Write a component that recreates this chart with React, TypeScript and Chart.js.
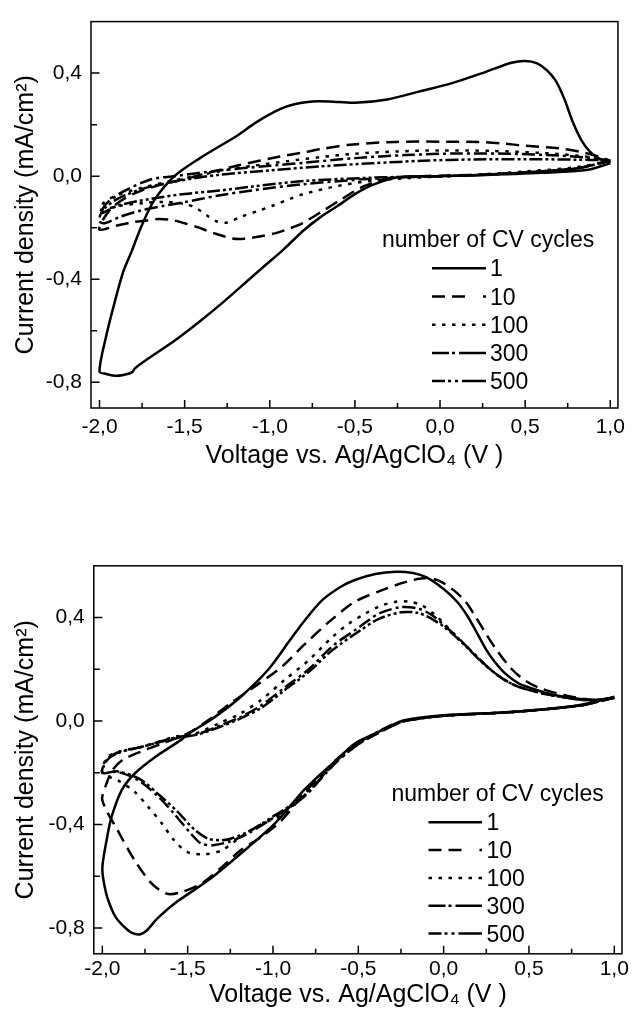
import React, { useEffect, useRef } from "react";
import { Chart, registerables } from "chart.js";

Chart.register(...registerables);

type Pt = [number, number];

// ---------- text ----------
const seriesLabels = ["1", "10", "100", "300", "500"];
const legendTitle = "number of CV cycles";
const xTitle = "Voltage vs. Ag/AgClO\u2084 (V )";
const yTitle = "Current density (mA/cm\u00B2)";

// ---------- ticks ----------
const xTickValues = [-2, -1.75, -1.5, -1.25, -1, -0.75, -0.5, -0.25, 0, 0.25, 0.5, 0.75, 1];
const yTickValues = [-0.8, -0.6, -0.4, -0.2, 0, 0.2, 0.4];
const xRange = [-2.05, 1.045];
const yRange = [-0.9, 0.6];

// ---------- top panel (V, mA/cm2) ----------
const top1: Pt[] = [
  [1.0, 0.05], [0.87, 0.025], [0.6, 0.013], [0.2, 0.003], [0.0, 0.0], [-0.25, -0.004], [-0.4, -0.035],
  [-0.5, -0.07], [-0.6, -0.115], [-0.7, -0.158], [-0.8, -0.21], [-0.92, -0.285], [-1.03, -0.348],
  [-1.12, -0.4], [-1.27, -0.487], [-1.41, -0.563], [-1.56, -0.639], [-1.7, -0.702], [-1.79, -0.745],
  [-1.81, -0.762], [-1.86, -0.772], [-1.91, -0.775], [-1.96, -0.768], [-2.0, -0.758],
  [-1.958, -0.613], [-1.91, -0.487], [-1.86, -0.37], [-1.81, -0.29], [-1.755, -0.196], [-1.68, -0.095],
  [-1.56, 0.0], [-1.41, 0.07], [-1.19, 0.158], [-1.08, 0.209], [-0.94, 0.26], [-0.85, 0.28],
  [-0.75, 0.29], [-0.65, 0.29], [-0.5, 0.285], [-0.31, 0.298], [-0.12, 0.329], [0.07, 0.361],
  [0.27, 0.405], [0.42, 0.44], [0.5, 0.447], [0.57, 0.438], [0.63, 0.41], [0.68, 0.37],
  [0.73, 0.3], [0.78, 0.21], [0.83, 0.14], [0.88, 0.095], [0.94, 0.066], [1.0, 0.05],
];
const top10: Pt[] = [
  [1.0, 0.06], [0.8, 0.03], [0.5, 0.015], [0.2, 0.005], [-0.1, 0.0], [-0.3, -0.01], [-0.45, -0.04],
  [-0.58, -0.09], [-0.7, -0.14], [-0.81, -0.183], [-0.88, -0.202], [-0.97, -0.222], [-1.06, -0.234],
  [-1.15, -0.243], [-1.22, -0.242], [-1.33, -0.221], [-1.43, -0.197], [-1.5, -0.183], [-1.57, -0.171],
  [-1.65, -0.166], [-1.72, -0.172], [-1.8, -0.178], [-1.9, -0.192], [-2.0, -0.208],
  [-1.98, -0.17], [-1.93, -0.125], [-1.85, -0.085], [-1.75, -0.055], [-1.62, -0.03], [-1.48, -0.008],
  [-1.35, 0.015], [-1.17, 0.044], [-0.94, 0.076], [-0.82, 0.09], [-0.7, 0.105], [-0.53, 0.122],
  [-0.26, 0.133], [0.03, 0.134], [0.23, 0.133], [0.37, 0.127], [0.47, 0.12], [0.7, 0.108],
  [0.82, 0.095], [0.93, 0.076], [1.0, 0.06],
];
const top100: Pt[] = [
  [1.0, 0.06], [0.8, 0.035], [0.5, 0.018], [0.2, 0.005], [-0.2, -0.008], [-0.4, -0.018], [-0.6, -0.038],
  [-0.8, -0.069], [-0.88, -0.088], [-0.98, -0.114], [-1.06, -0.133], [-1.17, -0.158], [-1.25, -0.18],
  [-1.31, -0.176], [-1.37, -0.152], [-1.43, -0.125], [-1.5, -0.108], [-1.62, -0.1], [-1.75, -0.105],
  [-1.88, -0.115], [-2.0, -0.13],
  [-1.97, -0.1], [-1.9, -0.075], [-1.75, -0.045], [-1.55, -0.015], [-1.3, 0.018], [-1.1, 0.04],
  [-0.9, 0.058], [-0.7, 0.074], [-0.5, 0.087], [-0.25, 0.096], [0.0, 0.1], [0.3, 0.098], [0.6, 0.09],
  [0.8, 0.08], [0.95, 0.068], [1.0, 0.06],
];
const top300: Pt[] = [
  [1.0, 0.06], [0.8, 0.03], [0.5, 0.015], [0.2, 0.004], [0.0, 0.0], [-0.4, -0.01], [-0.8, -0.031],
  [-1.1, -0.055], [-1.3, -0.075], [-1.5, -0.101], [-1.62, -0.115], [-1.755, -0.133], [-1.88, -0.158],
  [-1.97, -0.183], [-2.0, -0.175],
  [-1.99, -0.14], [-1.96, -0.107], [-1.87, -0.063], [-1.7, -0.013], [-1.56, 0.0], [-1.3, 0.022],
  [-1.0, 0.04], [-0.8, 0.052], [-0.5, 0.07], [-0.2, 0.082], [0.1, 0.088], [0.4, 0.087], [0.7, 0.08],
  [0.9, 0.07], [1.0, 0.06],
];
const top500: Pt[] = [
  [1.0, 0.06], [0.8, 0.03], [0.5, 0.014], [0.2, 0.004], [0.0, 0.0], [-0.4, -0.006], [-0.8, -0.019],
  [-1.1, -0.04], [-1.31, -0.057], [-1.5, -0.069], [-1.7, -0.088], [-1.89, -0.114], [-1.99, -0.145],
  [-1.97, -0.125], [-1.9, -0.09], [-1.75, -0.05], [-1.55, -0.02], [-1.3, 0.005], [-1.0, 0.022],
  [-0.7, 0.038], [-0.4, 0.05], [-0.1, 0.06], [0.2, 0.065], [0.5, 0.066], [0.8, 0.064], [0.95, 0.062],
  [1.0, 0.06],
];

// ---------- bottom panel (V, mA/cm2) ----------
const bot1: Pt[] = [
  [1.0, 0.093], [0.79, 0.061], [0.4, 0.035], [0.0, 0.022], [-0.23, 0.003], [-0.32, -0.022], [-0.4, -0.048],
  [-0.52, -0.087], [-0.63, -0.152], [-0.72, -0.205], [-0.82, -0.268], [-0.99, -0.397], [-1.19, -0.513],
  [-1.38, -0.616], [-1.58, -0.707], [-1.68, -0.765], [-1.74, -0.81], [-1.78, -0.825], [-1.83, -0.818],
  [-1.87, -0.797], [-1.92, -0.76], [-1.95, -0.72], [-1.98, -0.66], [-2.0, -0.571],
  [-1.975, -0.461], [-1.946, -0.371], [-1.887, -0.268], [-1.81, -0.203], [-1.69, -0.139], [-1.54, -0.074],
  [-1.5, -0.052], [-1.34, 0.016], [-1.19, 0.093], [-1.03, 0.197], [-0.9, 0.313], [-0.82, 0.384],
  [-0.71, 0.468], [-0.6, 0.52], [-0.52, 0.545], [-0.4, 0.568], [-0.28, 0.577], [-0.18, 0.572],
  [-0.1, 0.555], [0.0, 0.51], [0.08, 0.46], [0.14, 0.405], [0.2, 0.335], [0.25, 0.275], [0.3, 0.228],
  [0.36, 0.184], [0.44, 0.145], [0.5, 0.13], [0.6, 0.108], [0.71, 0.093], [0.88, 0.081], [0.95, 0.085],
  [1.0, 0.093],
];
const bot10: Pt[] = [
  [1.0, 0.093], [0.8, 0.06], [0.4, 0.035], [0.0, 0.02], [-0.23, 0.0], [-0.32, -0.025], [-0.5, -0.085],
  [-0.63, -0.15], [-0.72, -0.21], [-0.82, -0.281], [-0.95, -0.384], [-1.07, -0.449], [-1.19, -0.5],
  [-1.3, -0.565], [-1.42, -0.629], [-1.54, -0.662], [-1.62, -0.668], [-1.71, -0.629], [-1.81, -0.539],
  [-1.91, -0.423], [-2.0, -0.307],
  [-1.98, -0.25], [-1.94, -0.19], [-1.88, -0.15], [-1.78, -0.12], [-1.66, -0.09], [-1.5, -0.048],
  [-1.38, 0.003], [-1.25, 0.068], [-1.11, 0.132], [-0.95, 0.209], [-0.82, 0.293], [-0.67, 0.384],
  [-0.52, 0.461], [-0.36, 0.506], [-0.22, 0.538], [-0.1, 0.553], [-0.02, 0.54], [0.06, 0.505],
  [0.13, 0.46], [0.19, 0.4], [0.25, 0.335], [0.31, 0.275], [0.4, 0.2], [0.48, 0.155], [0.56, 0.128],
  [0.71, 0.1], [0.88, 0.081], [0.95, 0.085], [1.0, 0.093],
];
const bot100: Pt[] = [
  [1.0, 0.09], [0.8, 0.06], [0.4, 0.035], [0.0, 0.02], [-0.23, 0.0], [-0.32, -0.025], [-0.5, -0.09],
  [-0.63, -0.16], [-0.82, -0.285], [-0.935, -0.358], [-1.07, -0.4], [-1.19, -0.449], [-1.3, -0.5],
  [-1.4, -0.515], [-1.5, -0.507], [-1.58, -0.461], [-1.65, -0.397], [-1.73, -0.333], [-1.81, -0.274],
  [-1.91, -0.229], [-2.0, -0.2],
  [-1.97, -0.14], [-1.9, -0.118], [-1.77, -0.1], [-1.58, -0.062], [-1.44, -0.045], [-1.32, -0.01],
  [-1.19, 0.029], [-1.07, 0.081], [-0.93, 0.16], [-0.79, 0.235], [-0.65, 0.326], [-0.555, 0.377],
  [-0.46, 0.415], [-0.37, 0.445], [-0.28, 0.461], [-0.2, 0.461], [-0.13, 0.448], [-0.05, 0.41],
  [0.0, 0.378], [0.06, 0.338], [0.14, 0.285], [0.22, 0.232], [0.28, 0.196], [0.35, 0.162], [0.44, 0.132],
  [0.63, 0.1], [0.86, 0.08], [1.0, 0.09],
];
const bot300: Pt[] = [
  [1.0, 0.09], [0.8, 0.06], [0.4, 0.035], [0.0, 0.02], [-0.23, 0.0], [-0.32, -0.025], [-0.5, -0.09],
  [-0.63, -0.16], [-0.82, -0.294], [-0.99, -0.371], [-1.15, -0.436], [-1.25, -0.465], [-1.35, -0.48],
  [-1.42, -0.474], [-1.48, -0.436], [-1.58, -0.358], [-1.67, -0.294], [-1.79, -0.229], [-1.91, -0.197],
  [-2.0, -0.2],
  [-1.97, -0.145], [-1.9, -0.12], [-1.77, -0.1], [-1.58, -0.065], [-1.44, -0.05], [-1.32, -0.02],
  [-1.19, 0.015], [-1.07, 0.06], [-0.93, 0.13], [-0.79, 0.2], [-0.65, 0.29], [-0.5, 0.36],
  [-0.38, 0.415], [-0.25, 0.44], [-0.15, 0.435], [-0.07, 0.41], [0.0, 0.372], [0.06, 0.336],
  [0.14, 0.285], [0.22, 0.232], [0.28, 0.196], [0.35, 0.162], [0.44, 0.132], [0.63, 0.1], [0.86, 0.08],
  [1.0, 0.09],
];
const bot500: Pt[] = [
  [1.0, 0.09], [0.8, 0.06], [0.4, 0.035], [0.0, 0.02], [-0.23, 0.0], [-0.32, -0.02], [-0.5, -0.085],
  [-0.63, -0.155], [-0.82, -0.29], [-0.99, -0.365], [-1.15, -0.43], [-1.25, -0.455], [-1.3, -0.461],
  [-1.38, -0.455], [-1.46, -0.42], [-1.56, -0.35], [-1.66, -0.29], [-1.78, -0.225], [-1.91, -0.195],
  [-2.0, -0.2],
  [-1.97, -0.15], [-1.9, -0.122], [-1.77, -0.1], [-1.58, -0.068], [-1.44, -0.052], [-1.32, -0.025],
  [-1.19, 0.01], [-1.07, 0.05], [-0.93, 0.12], [-0.79, 0.19], [-0.65, 0.275], [-0.5, 0.345],
  [-0.38, 0.395], [-0.25, 0.42], [-0.15, 0.418], [-0.07, 0.395], [0.0, 0.365], [0.06, 0.332],
  [0.14, 0.283], [0.22, 0.23], [0.28, 0.196], [0.35, 0.162], [0.44, 0.132], [0.63, 0.1], [0.86, 0.08],
  [1.0, 0.09],
];

const topSeries = [top1, top10, top100, top300, top500];
const bottomSeries = [bot1, bot10, bot100, bot300, bot500];

// ---------- styles ----------
const FONT = "'Liberation Sans', Arial, Helvetica, sans-serif";
const INK = "#000";
const LINE_W = 2.5;
const lineDashes: number[][] = [[], [13, 7], [3.5, 6.5], [13, 4, 3, 4], [13, 3, 3, 3, 3, 3]];
const legendDashes: number[][] = [[], [13, 7, 13, 18, 3, 20], [3.5, 6.5], [17, 3, 3, 4, 40], [13, 3, 3, 4, 3, 4, 40]];

type PanelLayout = {
  canvasTop: number;
  height: number;
  yAxisWidth: number;
  xAxisHeight: number;
  padTop: number;
  padRight: number;
  padBottom: number;
  xTickPad: number;
  legend: { titleX: number; titleY: number; x1: number; x2: number; textX: number; y0: number; dy: number };
};

const topLayout: PanelLayout = {
  canvasTop: 0, height: 500, yAxisWidth: 91, xAxisHeight: 63, padTop: 14, padRight: 8.3, padBottom: 29, xTickPad: 7,
  legend: { titleX: 382, titleY: 246.5, x1: 432, x2: 486, textX: 490, y0: 268.3, dy: 28.2 },
};
const bottomLayout: PanelLayout = {
  canvasTop: 500, height: 514, yAxisWidth: 93.8, xAxisHeight: 56.7, padTop: 65.8, padRight: 7.8, padBottom: 3.5, xTickPad: 3,
  legend: { titleX: 391.5, titleY: 300.5, x1: 428.5, x2: 482, textX: 486.5, y0: 322.3, dy: 27.8 },
};

const isMultiple = (v: number, step: number) => Math.abs(v / step - Math.round(v / step)) < 1e-6;
const fmt = (v: number) => v.toFixed(1).replace(".", ",");

const framePlugin = {
  id: "cvFrame",
  afterDatasetsDraw(chart: any, _args: any, opts: any) {
    const { ctx, chartArea } = chart;
    const { left, right, top, bottom } = chartArea;
    const xs = chart.scales.x;
    const ys = chart.scales.y;
    ctx.save();
    ctx.strokeStyle = INK;
    ctx.setLineDash([]);
    ctx.lineWidth = 1.5;
    ctx.strokeRect(left, top, right - left, bottom - top);
    ctx.beginPath();
    xs.ticks.forEach((t: any) => {
      const px = xs.getPixelForValue(t.value);
      const len = isMultiple(t.value, 0.5) ? 8 : 5;
      ctx.moveTo(px, bottom);
      ctx.lineTo(px, bottom - len);
    });
    ys.ticks.forEach((t: any) => {
      const py = ys.getPixelForValue(t.value);
      const len = isMultiple(t.value, 0.4) ? 8.5 : 6;
      ctx.moveTo(left, py);
      ctx.lineTo(left + len, py);
    });
    ctx.stroke();

    // legend
    const L = opts.legend;
    ctx.fillStyle = INK;
    ctx.font = `23px ${FONT}`;
    ctx.textAlign = "left";
    ctx.textBaseline = "alphabetic";
    ctx.fillText(legendTitle, L.titleX, L.titleY);
    chart.data.datasets.forEach((ds: any, i: number) => {
      const y = L.y0 + i * L.dy;
      ctx.beginPath();
      ctx.lineWidth = LINE_W;
      ctx.lineCap = "butt";
      ctx.setLineDash(legendDashes[i]);
      ctx.moveTo(L.x1, y);
      ctx.lineTo(L.x2, y);
      ctx.stroke();
      ctx.setLineDash([]);
      ctx.fillText(ds.label, L.textX, y + 8);
    });
    ctx.restore();
  },
};

function buildChart(canvas: HTMLCanvasElement, series: Pt[][], lay: PanelLayout) {
  return new Chart(canvas, {
    type: "scatter",
    data: {
      datasets: series.map((pts, i) => ({
        label: seriesLabels[i],
        data: pts.map(([x, y]) => ({ x, y })),
        showLine: true,
        borderColor: INK,
        backgroundColor: INK,
        borderWidth: LINE_W,
        borderDash: lineDashes[i],
        pointRadius: 0,
        pointHoverRadius: 0,
        tension: 0.3,
        fill: false,
      })),
    },
    options: {
      responsive: false,
      animation: false,
      events: [],
      layout: { padding: { left: 0, right: lay.padRight, top: lay.padTop, bottom: lay.padBottom } },
      plugins: {
        legend: { display: false },
        tooltip: { enabled: false },
        cvFrame: { legend: lay.legend },
      } as any,
      scales: {
        x: {
          type: "linear",
          min: xRange[0],
          max: xRange[1],
          grid: { display: false, drawTicks: false },
          border: { display: false },
          afterBuildTicks: (s: any) => {
            s.ticks = xTickValues.map((v) => ({ value: v }));
          },
          afterFit: (s: any) => {
            s.height = lay.xAxisHeight;
          },
          ticks: {
            autoSkip: false,
            maxRotation: 0,
            padding: lay.xTickPad,
            color: INK,
            font: { family: FONT, size: 21 },
            callback: (v: any) => (isMultiple(Number(v), 0.5) ? fmt(Number(v)) : ""),
          },
          title: {
            display: true,
            text: xTitle,
            color: INK,
            font: { family: FONT, size: 25 },
            padding: { top: 0, bottom: 0 },
          },
        },
        y: {
          type: "linear",
          min: yRange[0],
          max: yRange[1],
          grid: { display: false, drawTicks: false },
          border: { display: false },
          afterBuildTicks: (s: any) => {
            s.ticks = yTickValues.map((v) => ({ value: v }));
          },
          afterFit: (s: any) => {
            s.width = lay.yAxisWidth;
          },
          ticks: {
            autoSkip: false,
            padding: 9,
            color: INK,
            font: { family: FONT, size: 21 },
            callback: (v: any) => (isMultiple(Number(v), 0.4) ? fmt(Number(v)) : ""),
          },
          title: {
            display: true,
            text: yTitle,
            color: INK,
            font: { family: FONT, size: 25 },
            padding: { top: 11, bottom: 0 },
          },
        },
      },
    },
    plugins: [framePlugin],
  } as any);
}

function Panel({ series, lay }: { series: Pt[][]; lay: PanelLayout }) {
  const ref = useRef<HTMLCanvasElement | null>(null);
  useEffect(() => {
    if (!ref.current) return;
    const chart = buildChart(ref.current, series, lay);
    return () => chart.destroy();
  }, [series, lay]);
  return (
    <canvas
      ref={ref}
      width={632}
      height={lay.height}
      style={{ position: "absolute", left: 0, top: lay.canvasTop, width: 632, height: lay.height, display: "block" }}
    />
  );
}

export default function App() {
  return (
    <div style={{ position: "absolute", left: 0, top: 0, width: 632, height: 1014, background: "#fff" }}>
      <Panel series={topSeries} lay={topLayout} />
      <Panel series={bottomSeries} lay={bottomLayout} />
    </div>
  );
}
